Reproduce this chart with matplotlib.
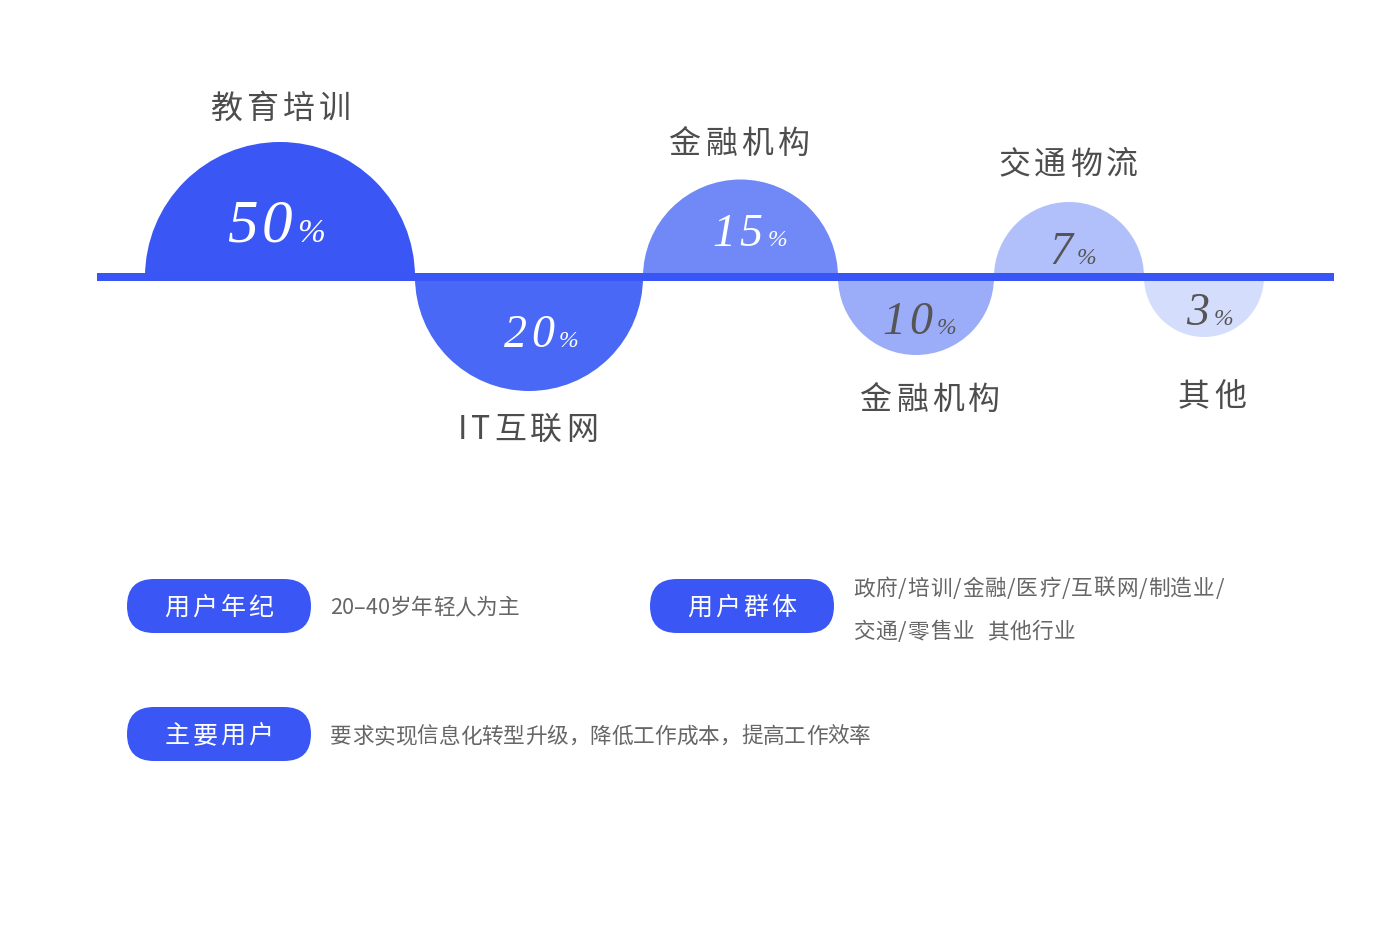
import matplotlib
matplotlib.use("Agg")
import matplotlib.pyplot as plt
from matplotlib.patches import Wedge, FancyBboxPatch

plt.rcParams['font.family'] = ['Noto Sans CJK SC', 'DejaVu Sans']

# ---- data ----
categories = ["教育培训", "IT互联网", "金融机构", "金融机构", "交通物流", "其他"]
values = [50, 20, 15, 10, 7, 3]
sides = ["up", "down", "up", "down", "up", "down"]
colors = ["#3a57f5", "#4a68f6", "#7089f7", "#9badf9", "#b1c0fb", "#d5ddfd"]
value_colors = ["white", "white", "white", "#555555", "#555555", "#555555"]

pill_labels = ["用户年纪", "用户群体", "主要用户"]
pill_lines = [["20–40岁年轻人为主"],
              ["政府/培训/金融/医疗/互联网/制造业/", "交通/零售业  其他行业"],
              ["要求实现信息化转型升级，降低工作成本，提高工作效率"]]

# ---- layout (pixels) ----
radii = [135, 114, 97.5, 78, 75, 60]
start_x = 145
base_y = 277
num_dx = [12, 25, 22, 16, 3, 5]          # right end of number relative to center
num_dy = [-35, 70, -31, 57, -13, 48]     # baseline relative to line
num_size = [44, 33, 33, 33, 33, 33]
pct_size = [24, 17, 17, 17, 17, 17]
label_y = [109, 430, 144, 400, 165, 397]
label_dx = [1, -1, -1, 14, -1, 8]

W, H = 1400, 943
fig = plt.figure(figsize=(W / 100, H / 100), dpi=100)
ax = fig.add_axes([0, 0, 1, 1])
ax.set_xlim(0, W)
ax.set_ylim(H, 0)
ax.axis("off")
fig.patch.set_facecolor("white")
renderer = fig.canvas.get_renderer()


def spaced_text(x, y, s, spacing, align="center", va="center", **kw):
    objs = []
    off = 0.0
    for ch in s:
        t = ax.text(0, y, ch, ha="left", va=va, **kw)
        bb = t.get_window_extent(renderer)
        objs.append((t, off))
        off += bb.width + spacing
    total = off - spacing
    if align == "center":
        x0 = x - total / 2
    elif align == "right":
        x0 = x - total
    else:
        x0 = x
    for t, o in objs:
        t.set_x(x0 + o)
    return total


# semicircles
cx_list = []
x0 = start_x
for r, side, col in zip(radii, sides, colors):
    cx = x0 + r
    cx_list.append(cx)
    if side == "up":
        w = Wedge((cx, base_y), r, 180, 360, facecolor=col, edgecolor="none", zorder=2)
    else:
        w = Wedge((cx, base_y), r, 0, 180, facecolor=col, edgecolor="none", zorder=2)
    ax.add_patch(w)
    x0 = cx + r

# base line
ax.plot([97, 1334], [base_y, base_y], color="#3a55f6", lw=8 * 0.72,
        solid_capstyle="butt", zorder=3)

# values and labels
for i, (cat, v) in enumerate(zip(categories, values)):
    cx = cx_list[i]
    xe = cx + num_dx[i]
    yb = base_y + num_dy[i]
    spaced_text(xe, yb, str(v), 4, align="right", va="baseline",
                family="Liberation Serif", style="italic", fontsize=num_size[i],
                color=value_colors[i], zorder=4)
    ax.text(xe + 5, yb, "%", ha="left", va="baseline", family="Liberation Serif",
            style="italic", fontsize=pct_size[i], color=value_colors[i], zorder=4)
    spaced_text(cx + label_dx[i], label_y[i], cat, 4, fontsize=23, color="#4d4d4d")

# pills
pill_pos = [(127, 579), (650, 579), (127, 707)]
pill_w, pill_h = 184, 54
text_pos = [(330, 608), (853, 589), (330, 737)]
line_gap = 43
for (px, py), lab, (tx, ty), lines in zip(pill_pos, pill_labels, text_pos, pill_lines):
    p = FancyBboxPatch((px, py), pill_w, pill_h,
                       boxstyle=f"round,pad=0,rounding_size={pill_h/2}",
                       facecolor="#3a57f5", edgecolor="none")
    ax.add_patch(p)
    spaced_text(px + pill_w / 2, py + pill_h / 2 + 2, lab, 3, fontsize=18, color="white")
    for k, ln in enumerate(lines):
        sp = 0.9 if "/" in ln else 0.0
        spaced_text(tx, ty + k * line_gap, ln, sp, align="left", fontsize=15.6,
                    color="#666666", weight="light")

fig.savefig("out.png", dpi=100, facecolor="white")
